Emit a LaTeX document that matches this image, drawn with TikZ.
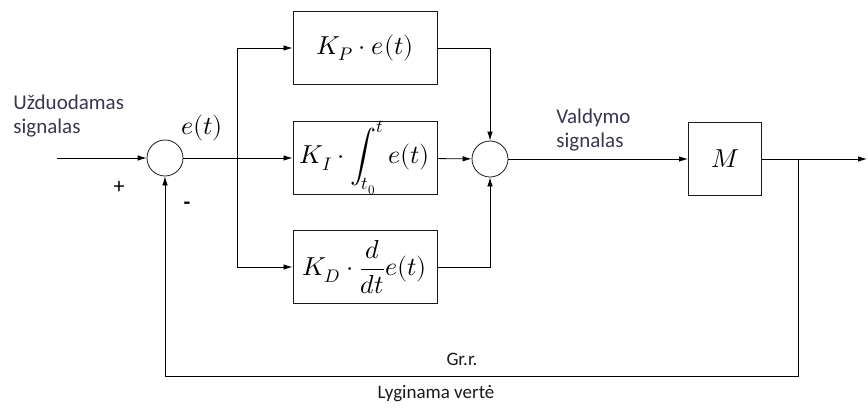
\documentclass[tikz,border=0pt]{standalone}
\usepackage{fontspec}
\usepackage{unicode-math}
\setmainfont{Carlito}
\setmathfont{Latin Modern Math}
\usetikzlibrary{arrows.meta,positioning}
\definecolor{wire}{HTML}{1A1A1A}
\definecolor{labeltext}{HTML}{3A3550}

\begin{document}
\begin{tikzpicture}[x=1pt,y=-1pt,
    line width=0.8pt,
    >={Latex[length=9pt,width=5.5pt]},
    block/.style={draw=wire,line width=1pt,minimum width=144pt,minimum height=73pt,
      inner sep=0pt,font=\fontsize{26}{30}\selectfont},
    sumnode/.style={draw=wire,circle,minimum size=36pt,inner sep=0pt},
    signal/.style={font=\fontsize{21}{24}\selectfont,text=labeltext,align=left,inner sep=0pt},
    mathlabel/.style={font=\fontsize{26}{30}\selectfont,inner sep=0pt}]
  \useasboundingbox (0,0) rectangle (868,410);

  % summing junctions
  \node[sumnode] (sum1) at (165,158) {};
  \node[sumnode] (sum2) at (490,159) {};

  % P, I, D branches
  \node[block] (kp) at (365,48) {$K_P\cdot e(t)$};
  \node[block] (ki) at (365,158) {$K_I\cdot\displaystyle\int_{t_0}^{t} e(t)$};
  \node[block] (kd) at (365,267) {$K_D\cdot\displaystyle\frac{d}{dt}e(t)$};

  % plant
  \node[block,minimum width=73pt] (plant) at (725,159) {$M$};

  % helper points
  \coordinate (src) at (57,158);
  \coordinate (split) at (237,158);
  \coordinate (tap) at (798,159);
  \coordinate (dest) at (867,159);

  % wires
  \draw[->] (src) -- (sum1);
  \draw (sum1) -- (split);
  \draw[->] (split) |- (kp);
  \draw[->] (split) -- (ki);
  \draw[->] (split) |- (kd);
  \draw[->] (kp) -| (sum2);
  \draw[->] (ki) -- (sum2);
  \draw[->] (kd) -| (sum2);
  \draw[->] (sum2) -- (plant);
  \draw (plant) -- (tap);
  \draw[->] (tap) -- (dest);
  \draw[->] (tap) -- (798,376) -| (sum1);

  % labels
  \node[signal,anchor=west] (ref) at (13,116) {Užduodamas\\signalas};
  \node[mathlabel] (err) at (202,128) {$e(t)$};
  \node[font=\fontsize{22}{24}\selectfont] (plus) at (119,187) {+};
  \node[font=\fontsize{22}{24}\selectfont\bfseries] (minus) at (187,206) {-};
  \node[signal,anchor=west] (ctrl) at (556,130) {Valdymo\\signalas};
  \node[signal,text=wire,font=\fontsize{19}{22}\selectfont] (grr) at (462,359) {Gr.r.};
  \node[signal,text=wire,font=\fontsize{19}{22}\selectfont] (cmp) at (436,394) {Lyginama vertė};
\end{tikzpicture}
\end{document}
